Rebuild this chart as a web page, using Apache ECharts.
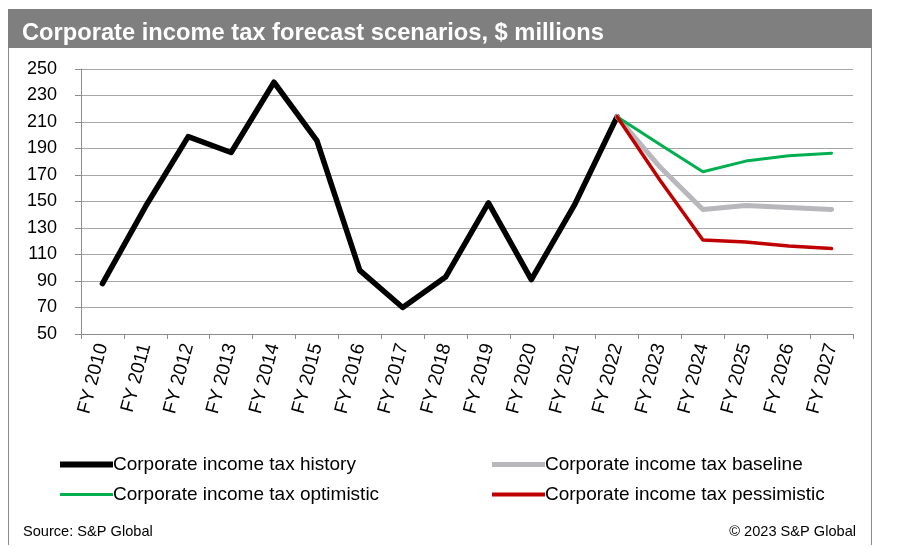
<!DOCTYPE html>
<html>
<head>
<meta charset="utf-8">
<script src="https://cdn.jsdelivr.net/npm/echarts@6/dist/echarts.min.js"></script>
<style>
  html, body { margin: 0; padding: 0; background: #ffffff; }
  #chart { width: 897px; height: 547px; }
</style>
</head>
<body>
<div id="chart"></div>
<script>
// Fiscal years on the category axis
const years = ['FY 2010', 'FY 2011', 'FY 2012', 'FY 2013', 'FY 2014', 'FY 2015', 'FY 2016',
  'FY 2017', 'FY 2018', 'FY 2019', 'FY 2020', 'FY 2021', 'FY 2022', 'FY 2023',
  'FY 2024', 'FY 2025', 'FY 2026', 'FY 2027'];

// $ millions
const history = [88, 146, 199, 187, 240, 196, 98, 70, 93, 149, 91, 147, 214,
  null, null, null, null, null];
const baseline = [null, null, null, null, null, null, null, null, null, null, null, null,
  214, 176, 144, 147, 145.5, 144];
const optimistic = [null, null, null, null, null, null, null, null, null, null, null, null,
  214, 193, 172.5, 180.5, 184.5, 186.5];
const pessimistic = [null, null, null, null, null, null, null, null, null, null, null, null,
  214, 166, 121, 119.5, 116.5, 114.5];

// Value-axis tick labels
const yTicks = [50, 70, 90, 110, 130, 150, 170, 190, 210, 230, 250];

const FONT = '"Liberation Sans", Arial, sans-serif';
const names = {
  history: 'Corporate income tax history',
  baseline: 'Corporate income tax baseline',
  optimistic: 'Corporate income tax optimistic',
  pessimistic: 'Corporate income tax pessimistic'
};

function legendBox(name, left, top, thickness) {
  return {
    data: [name],
    left: left,
    top: top,
    icon: 'rect',
    itemWidth: 53,
    itemHeight: thickness,
    selectedMode: false,
    textStyle: { fontFamily: FONT, fontSize: 19, color: '#000000', padding: [0, 0, 0, -5] }
  };
}

const chart = echarts.init(document.getElementById('chart'), null, { renderer: 'canvas' });
chart.setOption({
  animation: false,
  backgroundColor: '#ffffff',
  graphic: [
    { type: 'rect', shape: { x: 8, y: 9, width: 864, height: 39 }, style: { fill: '#7f7f7f' }, z: 0 },
    { type: 'line', shape: { x1: 8.5, y1: 48, x2: 8.5, y2: 545 }, style: { stroke: '#8c8c8c', lineWidth: 1 } },
    { type: 'line', shape: { x1: 871.5, y1: 48, x2: 871.5, y2: 545 }, style: { stroke: '#8c8c8c', lineWidth: 1 } }
  ],
  title: [
    {
      text: 'Corporate income tax forecast scenarios, $ millions',
      left: 17, top: 16,
      textStyle: { fontFamily: FONT, fontSize: 23.7, fontWeight: 'bold', color: '#ffffff' }
    },
    {
      text: 'Source: S&P Global',
      left: 18, top: 519,
      textStyle: { fontFamily: FONT, fontSize: 14.6, fontWeight: 'normal', color: '#000000' }
    },
    {
      text: '\u00a9 2023 S&P Global',
      right: 36, top: 519,
      textStyle: { fontFamily: FONT, fontSize: 14.6, fontWeight: 'normal', color: '#000000' }
    }
  ],
  legend: [
    legendBox(names.history, 55, 450, 6),
    legendBox(names.optimistic, 55, 480, 3),
    legendBox(names.baseline, 487, 450, 5),
    legendBox(names.pessimistic, 487, 480, 4)
  ],
  grid: { left: 81, right: 44, top: 69, bottom: 213, containLabel: false },
  xAxis: {
    type: 'category',
    data: years,
    boundaryGap: true,
    axisLine: { lineStyle: { color: '#8c8c8c', width: 1 } },
    axisTick: { show: true, alignWithLabel: false, length: 5, lineStyle: { color: '#8c8c8c' } },
    axisLabel: {
      interval: 0, rotate: 75, margin: 10,
      fontFamily: FONT, fontSize: 19, color: '#000000'
    },
    splitLine: { show: false }
  },
  yAxis: {
    type: 'value',
    min: 50,
    max: 250,
    axisLine: { show: true, lineStyle: { color: '#8c8c8c', width: 1 } },
    axisTick: { show: true, length: 6, customValues: yTicks, lineStyle: { color: '#8c8c8c' } },
    axisLabel: {
      customValues: yTicks, margin: 24,
      fontFamily: FONT, fontSize: 18, color: '#000000'
    },
    splitLine: { show: true, lineStyle: { color: '#a6a6a6', width: 1 } }
  },
  series: [
    {
      name: names.history, type: 'line', data: history, symbol: 'none',
      lineStyle: { color: '#000000', width: 5.5, cap: 'round', join: 'round' },
      itemStyle: { color: '#000000' }, z: 2
    },
    {
      name: names.baseline, type: 'line', data: baseline, symbol: 'none',
      lineStyle: { color: '#b8b8bc', width: 5, cap: 'round', join: 'round' },
      itemStyle: { color: '#b8b8bc' }, z: 3
    },
    {
      name: names.optimistic, type: 'line', data: optimistic, symbol: 'none',
      lineStyle: { color: '#00b050', width: 3, cap: 'round', join: 'round' },
      itemStyle: { color: '#00b050' }, z: 4
    },
    {
      name: names.pessimistic, type: 'line', data: pessimistic, symbol: 'none',
      lineStyle: { color: '#c00000', width: 3.5, cap: 'round', join: 'round' },
      itemStyle: { color: '#c00000' }, z: 5
    }
  ]
});
</script>
</body>
</html>
